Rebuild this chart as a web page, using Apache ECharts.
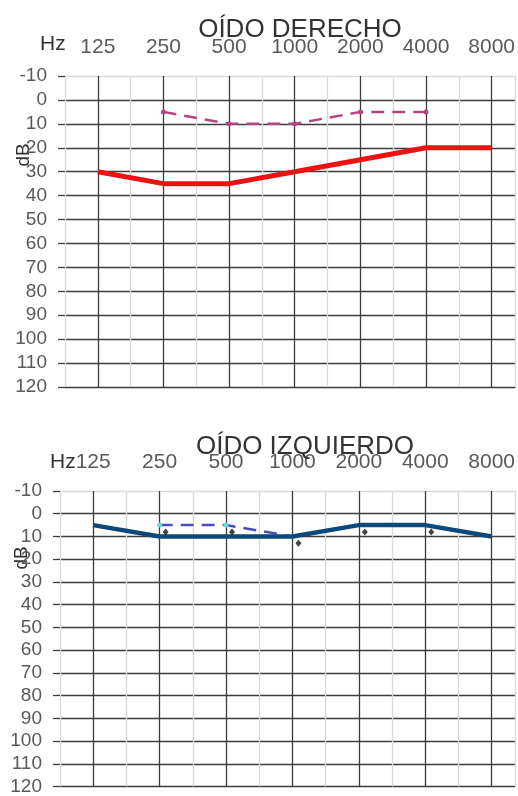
<!DOCTYPE html>
<html>
<head>
<meta charset="utf-8">
<style>
  html, body { margin: 0; padding: 0; background: #fff; }
  #chart { width: 518px; height: 796px; }
</style>
<script src="https://cdn.jsdelivr.net/npm/echarts@6/dist/echarts.min.js"></script>
</head>
<body>
<div id="chart"></div>
<script>
// frecuencias (Hz) y umbrales (dB)
const freqs = ['125', '250', '500', '1000', '2000', '4000', '8000']
const dbTicks = [-10, 0, 10, 20, 30, 40, 50, 60, 70, 80, 90, 100, 110, 120]

const rightSolid = [30, 35, 35, 30, 25, 20, 20]
const rightDashed = [null, 5, 10, 10, 5, 5, null]

const leftSolid = [5, 10, 10, 10, 5, 5, 10]
const leftDashed = [null, 5, 5, 10, null, null, null]
const leftBone = [null, 8, 8, 13, 8, 8, null]

const FONT = 'Liberation Sans'
const DARK = '#3c3c3c'
const LIGHT = '#d9d9d9'

// posiciones x: 1..7 (las líneas claras caen en los medios)
function pts(arr) {
  return arr.map((v, i) => [i + 1, v]).filter(p => p[1] != null)
}

// el gráfico se corta en el borde derecho: max se ajusta al ancho visible
function xAxis(grid, left, step) {
  return {
    type: 'value',
    gridIndex: grid,
    position: 'top',
    min: 0.5,
    max: 0.5 + (518 - left) / step,
    interval: 0.5,
    axisLine: { show: false },
    axisTick: { show: false },
    axisLabel: {
      margin: 18,
      fontFamily: FONT,
      fontSize: 21,
      color: '#595959',
      showMaxLabel: false,
      formatter: v => (Number.isInteger(v) ? freqs[v - 1] : ''),
    },
    splitLine: { show: true, lineStyle: { color: [LIGHT, DARK], width: 1.3 } },
  }
}

function yAxis(grid) {
  return {
    type: 'value',
    gridIndex: grid,
    inverse: true,
    min: dbTicks[0],
    max: dbTicks[dbTicks.length - 1],
    interval: 10,
    axisLine: { show: false },
    axisTick: { show: true, length: 7, lineStyle: { color: DARK, width: 1.3 } },
    axisLabel: {
      margin: 18,
      fontFamily: FONT,
      fontSize: 19,
      color: '#595959',
    },
    splitLine: {
      show: true,
      lineStyle: { color: dbTicks.map((t, i) => (i == 0 ? LIGHT : DARK)), width: 1.3 },
    },
  }
}

const chart = echarts.init(document.getElementById('chart'))

const option = {
  animation: false,
  title: [
    {
      text: 'OÍDO DERECHO',
      left: 295,
      top: 12,
      textAlign: 'center',
      textStyle: { fontFamily: FONT, fontSize: 26, fontWeight: 'normal', color: '#333' },
    },
    {
      text: 'OÍDO IZQUIERDO',
      left: 300,
      top: 429,
      textAlign: 'center',
      textStyle: { fontFamily: FONT, fontSize: 26, fontWeight: 'normal', color: '#333' },
    },
  ],
  graphic: [
    { type: 'text', left: 40, top: 34, style: { text: 'Hz', font: '21px ' + FONT, fill: '#333' } },
    { type: 'text', left: 50, top: 452, style: { text: 'Hz', font: '21px ' + FONT, fill: '#333' } },
    {
      type: 'text', x: 24, y: 155, rotation: Math.PI / 2,
      style: { text: 'dB', font: '19px ' + FONT, fill: '#333', align: 'center', verticalAlign: 'middle' },
    },
    {
      type: 'text', x: 22, y: 558, rotation: Math.PI / 2,
      style: { text: 'dB', font: '19px ' + FONT, fill: '#333', align: 'center', verticalAlign: 'middle' },
    },
  ],
  grid: [
    { left: 65, top: 76, right: 0, height: 311 },
    { left: 60, top: 491, right: 0, height: 298 },
  ],
  xAxis: [xAxis(0, 65, 66), xAxis(1, 60, 66.8)],
  yAxis: [yAxis(0), yAxis(1)],
  series: [
    {
      type: 'line',
      xAxisIndex: 0,
      yAxisIndex: 0,
      data: pts(rightDashed),
      symbol: 'circle',
      symbolSize: 5,
      itemStyle: { color: '#b4467f' },
      lineStyle: { color: '#b4467f', width: 2.5, type: [13, 8] },
      z: 3,
    },
    {
      type: 'line',
      xAxisIndex: 0,
      yAxisIndex: 0,
      data: pts(rightSolid),
      symbol: 'none',
      lineStyle: { color: '#ee1111', width: 5 },
      z: 4,
    },
    {
      type: 'line',
      xAxisIndex: 1,
      yAxisIndex: 1,
      data: pts(leftDashed),
      symbol: 'circle',
      symbolSize: 5,
      itemStyle: { color: '#6ad6e4' },
      lineStyle: { color: '#4b4bc2', width: 2.5, type: [13, 8] },
      z: 3,
    },
    {
      type: 'line',
      xAxisIndex: 1,
      yAxisIndex: 1,
      data: pts(leftSolid),
      symbol: 'none',
      lineStyle: { color: '#0c497b', width: 4.5 },
      z: 4,
    },
    {
      type: 'scatter',
      xAxisIndex: 1,
      yAxisIndex: 1,
      data: pts(leftBone),
      symbol: 'diamond',
      symbolSize: [6, 7],
      symbolOffset: [6, 0],
      itemStyle: { color: '#111' },
      z: 5,
    },
  ],
}

chart.setOption(option)
</script>
</body>
</html>
